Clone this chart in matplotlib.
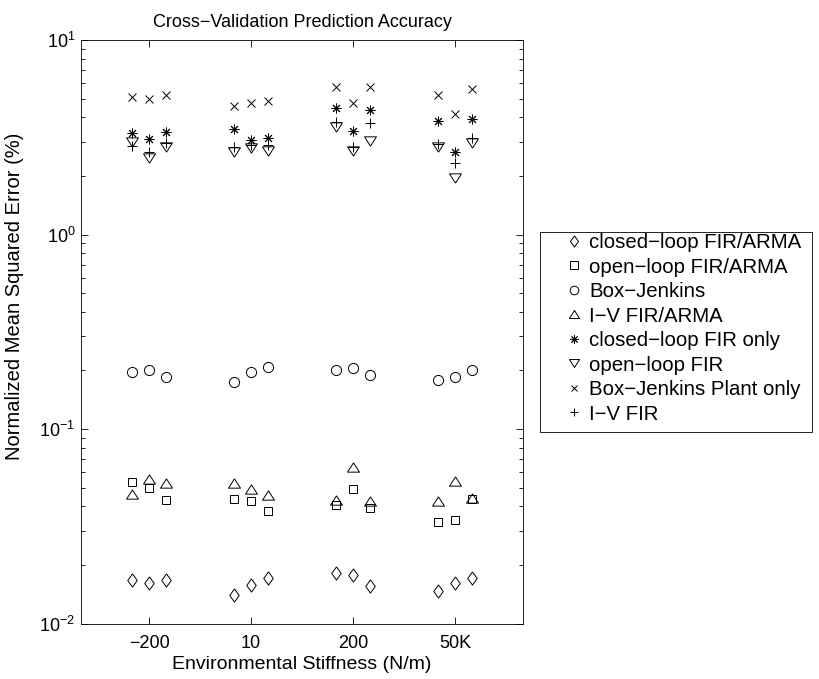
import matplotlib
matplotlib.use('Agg')
import matplotlib.pyplot as plt
from matplotlib.patches import Rectangle
import numpy as np

plt.rcParams['font.family'] = ['Liberation Sans', 'DejaVu Sans']
plt.rcParams['mathtext.fontset'] = 'custom'
plt.rcParams['mathtext.rm'] = 'Liberation Sans'

# Data
stiffness = ['\u2212200', '10', '200', '50K']
offsets = [-0.17, 0.0, 0.17]

cl_fir_arma = [[0.0167, 0.0162, 0.0167], [0.0141, 0.0158, 0.0172],
               [0.0181, 0.0177, 0.0156], [0.0147, 0.0161, 0.0171]]
ol_fir_arma = [[0.0535, 0.0498, 0.0434], [0.0439, 0.0426, 0.0381],
               [0.0406, 0.0494, 0.0394], [0.0332, 0.0340, 0.0439]]
box_jenkins = [[0.196, 0.200, 0.185], [0.174, 0.196, 0.208],
               [0.200, 0.206, 0.190], [0.178, 0.185, 0.202]]
iv_fir_arma = [[0.0464, 0.0556, 0.0525], [0.0528, 0.0489, 0.0460],
               [0.0434, 0.0636, 0.0428], [0.0426, 0.0543, 0.0443]]
cl_fir_only = [[3.32, 3.09, 3.38], [3.48, 3.06, 3.12],
               [4.49, 3.41, 4.37], [3.85, 2.65, 3.94]]
ol_fir = [[3.00, 2.47, 2.81], [2.67, 2.80, 2.69],
          [3.59, 2.70, 3.01], [2.83, 1.95, 2.97]]
bj_plant = [[5.08, 4.96, 5.22], [4.58, 4.73, 4.84],
            [5.71, 4.73, 5.75], [5.22, 4.17, 5.58]]
iv_fir = [[2.86, 2.64, 2.95], [2.83, 2.89, 2.89],
          [3.80, 2.81, 3.76], [2.92, 2.34, 3.13]]

# marker shapes like the matlab ones
diamond = [(0, 1), (0.72, 0), (0, -1), (-0.72, 0), (0, 1)]
tri_up = [(0, 0.78), (1, -0.78), (-1, -0.78), (0, 0.78)]
tri_down = [(0, -0.78), (1, 0.78), (-1, 0.78), (0, -0.78)]

series = [
    (cl_fir_arma, diamond, 9.5, 'closed\u2212loop FIR/ARMA'),
    (ol_fir_arma, 's', 6.0, 'open\u2212loop FIR/ARMA'),
    (box_jenkins, 'o', 7.3, 'Box\u2212Jenkins'),
    (iv_fir_arma, tri_up, 8.6, 'I\u2212V FIR/ARMA'),
    (cl_fir_only, (8, 2, 0), 7.0, 'closed\u2212loop FIR only'),
    (ol_fir, tri_down, 8.6, 'open\u2212loop FIR'),
    (bj_plant, 'x', 5.2, 'Box\u2212Jenkins Plant only'),
    (iv_fir, '+', 6.5, 'I\u2212V FIR'),
]

W, H = 820, 679
fig = plt.figure(figsize=(W / 100, H / 100), dpi=100)
ax = fig.add_axes([0.0988, 0.0817, 0.5390, 0.8594])

groups = np.arange(1, len(stiffness) + 1)
xs = (groups[:, None] + np.array(offsets)[None, :]).ravel()
for vals, mk, ms, lab in series:
    ax.plot(xs, np.array(vals).ravel(), linestyle='none', marker=mk,
            markersize=ms, markerfacecolor='none', markeredgecolor='black',
            markeredgewidth=0.7, color='black', label=lab)

ax.set_yscale('log')
ax.set_ylim(1e-2, 1e1)
ax.set_xlim(1 - 0.667, 4 + 0.667)
ax.set_xticks(groups)
ax.set_xticklabels(stiffness)
ax.tick_params(which='both', direction='in', top=True, right=True,
               labelsize=13, width=0.6)
ax.tick_params(which='major', length=5)
ax.tick_params(which='minor', length=3)
ax.tick_params(axis='x', pad=8)
ax.tick_params(axis='y', pad=4)
for s in ax.spines.values():
    s.set_linewidth(0.6)

ax.set_title('Cross\u2212Validation Prediction Accuracy', fontsize=13, pad=9)
ax.set_xlabel('Environmental Stiffness (N/m)', fontsize=14, labelpad=3)
ax.set_ylabel('Normalized Mean Squared Error (%)', fontsize=14.5)
ax.yaxis.set_label_coords(-0.13, 0.56)

# legend box drawn separately so the padding can match
ax.add_patch(Rectangle((540 / W, 1 - 432 / H), 272 / W, 200 / H,
                       transform=fig.transFigure, facecolor='white',
                       edgecolor='black', linewidth=0.6, clip_on=False,
                       zorder=4))
leg = ax.legend(loc='upper left', bbox_to_anchor=(564 / W, 1 - 233 / H),
                bbox_transform=fig.transFigure, borderaxespad=0,
                fontsize=14.7, frameon=False, handlelength=1.0,
                handletextpad=0.24, borderpad=0, labelspacing=0.27,
                markerscale=0.85)
leg.set_zorder(6)

fig.savefig('out.png', dpi=100)
